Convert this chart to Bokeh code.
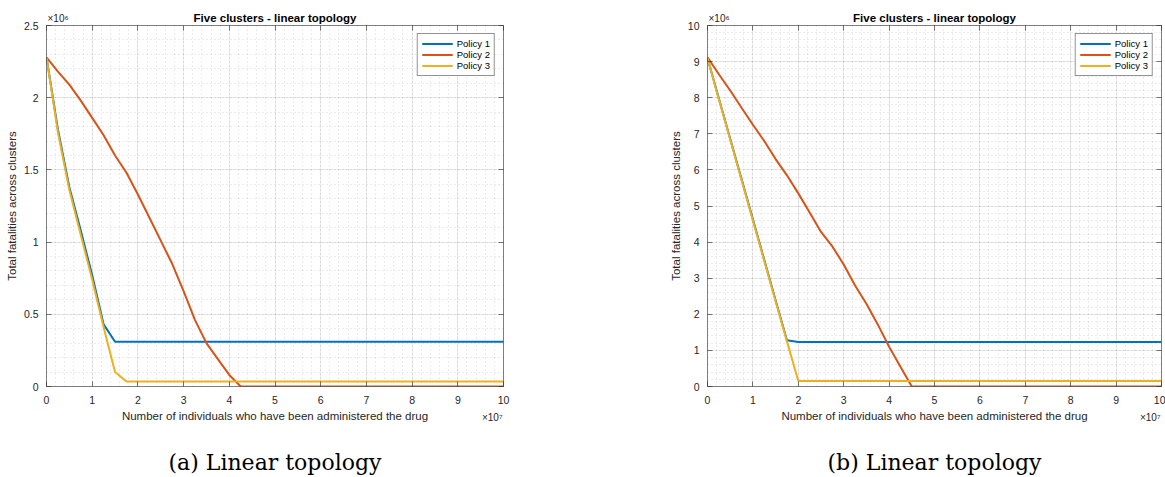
from bokeh.plotting import figure
from bokeh.layouts import row
from bokeh.models import (LinearAxis, SingleIntervalTicker, FixedTicker, Range1d, Title,
                          CustomJSTickFormatter, Legend, LegendItem)
from bokeh.embed import file_html
from bokeh.resources import INLINE

# x in units of 1e7 individuals, y in units of 1e6 fatalities
TITLE = "Five clusters - linear topology"
XLABEL = "Number of individuals who have been administered the drug"
YLABEL = "Total fatalities across clusters"
SERIES = ["Policy 1", "Policy 2", "Policy 3"]
COLORS = ["#0072BD", "#D95319", "#EDB120"]
CAPTIONS = ["(a) Linear topology", "(b) Linear topology"]
Y_EXP = "\u00d710\u2076"
X_EXP = "\u00d710\u2077"

# Panel (a)
a_p1_x = [0, 0.25, 0.5, 0.75, 1.0, 1.25, 1.5, 10]
a_p1_y = [2.28, 1.78, 1.38, 1.08, 0.77, 0.43, 0.31, 0.31]
a_p2_x = [0, 0.25, 0.5, 0.75, 1.0, 1.25, 1.5, 1.75, 2.0, 2.25, 2.5, 2.75, 3.0, 3.25,
          3.5, 3.75, 4.0, 4.25, 10]
a_p2_y = [2.28, 2.18, 2.09, 1.98, 1.86, 1.74, 1.60, 1.48, 1.33, 1.17, 1.01, 0.85, 0.66,
          0.46, 0.30, 0.19, 0.08, 0.0, 0.0]
a_p3_x = [0, 0.25, 0.5, 0.75, 1.0, 1.25, 1.5, 1.75, 10]
a_p3_y = [2.28, 1.76, 1.36, 1.05, 0.74, 0.41, 0.10, 0.035, 0.035]

# Panel (b)
b_p1_x = [0, 0.25, 0.5, 0.75, 1.0, 1.25, 1.5, 1.75, 2.0, 10]
b_p1_y = [9.1, 7.98, 6.86, 5.75, 4.63, 3.51, 2.39, 1.28, 1.23, 1.23]
b_p2_x = [0, 0.25, 0.5, 0.75, 1.0, 1.25, 1.5, 1.75, 2.0, 2.25, 2.5, 2.75, 3.0, 3.25,
          3.5, 3.75, 4.0, 4.25, 4.5, 10]
b_p2_y = [9.12, 8.65, 8.2, 7.72, 7.25, 6.8, 6.3, 5.85, 5.35, 4.82, 4.28, 3.88, 3.38,
          2.8, 2.29, 1.72, 1.1, 0.55, 0.0, 0.0]
b_p3_x = [0, 0.25, 0.5, 0.75, 1.0, 1.25, 1.5, 1.75, 2.0, 10]
b_p3_y = [9.1, 7.96, 6.84, 5.72, 4.6, 3.48, 2.36, 1.25, 0.15, 0.15]

FONT = "Liberation Sans"
AX = "#262626"
H = 477
TOP = 25
FRAME_H = 361


def panel(xs, ys, ymax, ystep, caption, width, bl, br):
    p = figure(width=width, height=H, output_backend="svg", toolbar_location=None,
               x_range=Range1d(0, 10), y_range=Range1d(0, ymax),
               min_border_left=bl, min_border_right=br, min_border_top=TOP,
               min_border_bottom=H - TOP - FRAME_H, background_fill_color="white",
               border_fill_color="white", outline_line_color=None)
    p.xaxis.visible = False
    p.yaxis.visible = False
    fmt = CustomJSTickFormatter(code="return String(parseFloat(tick.toFixed(2)))")
    xt = SingleIntervalTicker(interval=1, num_minor_ticks=5)
    yt = SingleIntervalTicker(interval=ystep, num_minor_ticks=5)

    def style(ax, labels=True):
        ax.axis_line_color = AX
        ax.axis_line_width = 0.6
        ax.major_tick_line_color = AX
        ax.major_tick_line_width = 0.6
        ax.major_tick_in = 5
        ax.major_tick_out = 0
        ax.minor_tick_line_color = None
        ax.formatter = fmt
        if labels:
            ax.major_label_text_font = FONT
            ax.major_label_text_font_size = "10.5px"
            ax.major_label_text_color = AX
            ax.axis_label_text_font = FONT
            ax.axis_label_text_font_size = "11.5px"
            ax.axis_label_text_font_style = "normal"
            ax.axis_label_text_color = AX
        else:
            ax.major_label_text_font_size = "0px"
            ax.major_label_standoff = 0
            ax.major_label_text_color = None

    xb = LinearAxis(ticker=xt, axis_label=XLABEL)
    style(xb)
    xb.major_label_standoff = 5
    xb.axis_label_standoff = 3
    yl = LinearAxis(ticker=yt, axis_label=YLABEL)
    style(yl)
    yl.major_label_standoff = 4
    yl.axis_label_standoff = 3
    xt2 = LinearAxis(ticker=xt)
    style(xt2, False)
    xt2.major_label_standoff = 7
    yr = LinearAxis(ticker=yt)
    style(yr, False)
    p.add_layout(xb, "below")
    p.add_layout(yl, "left")
    p.add_layout(xt2, "above")
    p.add_layout(yr, "right")

    # exponent of the y axis, above the top-left corner
    ye = Title(text=Y_EXP, align="left", offset=1, text_font=FONT,
               text_font_size="10px", text_font_style="normal", text_color=AX,
               vertical_align="top", standoff=-18)
    p.add_layout(ye, "above")
    # exponent of the x axis, below the bottom-right corner (raised a little)
    xe = Title(text=X_EXP, align="right", offset=1, text_font=FONT,
               text_font_size="10px", text_font_style="normal", text_color=AX,
               vertical_align="top", standoff=-25)
    p.add_layout(xe, "below")

    # caption as the label of an extra, otherwise empty, bottom axis
    cap = LinearAxis(ticker=FixedTicker(ticks=[]), axis_label=caption)
    cap.axis_line_color = None
    cap.major_tick_line_color = None
    cap.minor_tick_line_color = None
    cap.major_label_text_font_size = "0px"
    cap.major_label_standoff = 0
    cap.major_tick_out = 0
    cap.major_tick_in = 0
    cap.axis_label_standoff = 25
    cap.axis_label_text_font = "DejaVu Serif"
    cap.axis_label_text_font_size = "22px"
    cap.axis_label_text_font_style = "normal"
    cap.axis_label_text_color = "black"
    p.add_layout(cap, "below")

    for g, t in ((p.xgrid[0], xt), (p.ygrid[0], yt)):
        g.ticker = t
        g.grid_line_color = AX
        g.grid_line_alpha = 0.15
        g.grid_line_width = 0.6
        g.minor_grid_line_color = AX
        g.minor_grid_line_alpha = 0.3
        g.minor_grid_line_width = 0.6
        g.minor_grid_line_dash = "1 3"

    items = []
    for x, y, name, c in zip(xs, ys, SERIES, COLORS):
        r = p.line(x, y, line_color=c, line_width=2)
        items.append(LegendItem(label=name, renderers=[r]))
    leg = Legend(items=items, location="top_right", margin=8, padding=4, spacing=0,
                 label_height=11, glyph_height=11, glyph_width=31, label_standoff=4,
                 label_text_font=FONT, label_text_font_size="9.5px",
                 label_text_color="black", border_line_color=AX,
                 border_line_width=0.6, background_fill_color="white",
                 background_fill_alpha=1)
    p.add_layout(leg, "center")

    p.title.text = TITLE
    p.title.align = "center"
    p.title.text_font = FONT
    p.title.text_font_size = "11.5px"
    p.title.text_font_style = "bold"
    p.title.text_color = "black"
    p.title.vertical_align = "top"
    p.title.standoff = -20
    return p


pa = panel([a_p1_x, a_p2_x, a_p3_x], [a_p1_y, a_p2_y, a_p3_y], 2.5, 0.5,
           CAPTIONS[0], 600, 46, 97)
pb = panel([b_p1_x, b_p2_x, b_p3_x], [b_p1_y, b_p2_y, b_p3_y], 10, 1,
           CAPTIONS[1], 565, 107, 2)

layout = row(pa, pb)
open("out.html", "w").write(file_html(layout, INLINE))
